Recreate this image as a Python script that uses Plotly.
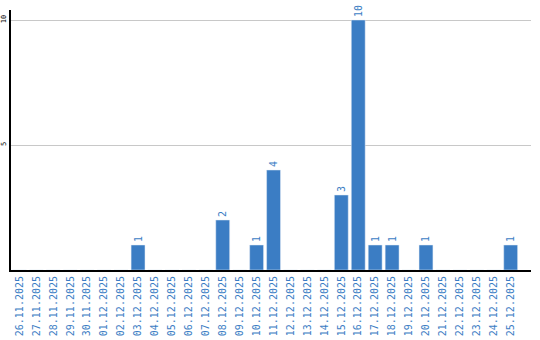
import plotly.graph_objects as go

dates = ["26.11.2025","27.11.2025","28.11.2025","29.11.2025","30.11.2025","01.12.2025",
         "02.12.2025","03.12.2025","04.12.2025","05.12.2025","06.12.2025","07.12.2025",
         "08.12.2025","09.12.2025","10.12.2025","11.12.2025","12.12.2025","13.12.2025",
         "14.12.2025","15.12.2025","16.12.2025","17.12.2025","18.12.2025","19.12.2025",
         "20.12.2025","21.12.2025","22.12.2025","23.12.2025","24.12.2025","25.12.2025"]
counts = [0,0,0,0,0,0,0,1,0,0,0,0,2,0,1,4,0,0,0,3,10,1,1,0,1,0,0,0,0,1]
labels = [str(v) if v else "" for v in counts]

blue = "#3b7dc4"
fig = go.Figure(go.Bar(
    x=list(range(len(dates))), y=counts, marker_color=blue, width=0.82,
    text=labels, textposition="outside", textangle=-90, cliponaxis=False,
    textfont=dict(family="DejaVu Sans Mono", size=10, color=blue),
))
fig.update_layout(
    width=540, height=340, margin=dict(l=11, r=9, t=10, b=70),
    plot_bgcolor="white", paper_bgcolor="white", showlegend=False,
    xaxis=dict(range=[-0.5, 30.2], tickvals=list(range(len(dates))), ticktext=dates,
               tickangle=-90, tickfont=dict(family="DejaVu Sans Mono", size=10, color=blue),
               showline=True, linecolor="black", linewidth=2, showgrid=False,
               ticks="", automargin=False),
    yaxis=dict(range=[0, 10.4], tickvals=[5, 10], tickangle=-90,
               tickfont=dict(family="DejaVu Sans Mono", size=7, color="black"),
               showline=True, linecolor="black", linewidth=2, gridcolor="#c8c8c8",
               zeroline=False, ticks="", automargin=False, ticklabelstandoff=0),
)
fig.write_html("out.html")
